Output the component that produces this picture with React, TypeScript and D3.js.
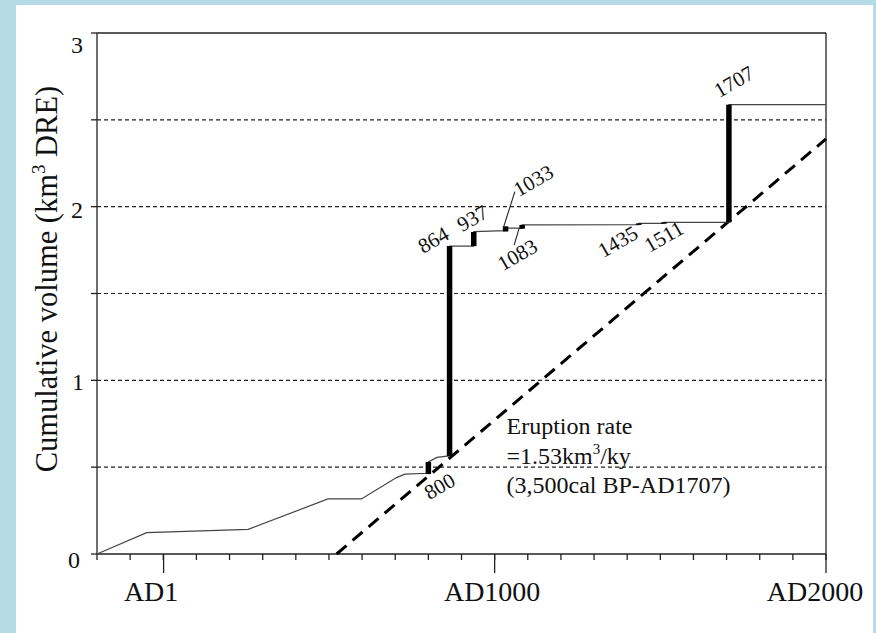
import React from "react";
import * as d3 from "d3";

// ---- data ----
const curvePoints: [number, number][] = [
  [-200, 0], [-50, 0.123], [256, 0.142], [497, 0.317], [598, 0.317],
  [704, 0.44], [729, 0.46], [800, 0.465], [800, 0.53], [826, 0.556],
  [856, 0.564], [864, 0.564], [864, 1.773], [937, 1.773], [937, 1.856],
  [1033, 1.862], [1033, 1.876], [1083, 1.876], [1083, 1.895], [1435, 1.897],
  [1435, 1.904], [1511, 1.904], [1511, 1.91], [1707, 1.91], [1707, 2.587],
  [2000, 2.587],
];
const eventYears = [800, 864, 937, 1033, 1083, 1435, 1511, 1707];
const eventFrom = [0.46, 0.564, 1.773, 1.857, 1.873, 1.895, 1.902, 1.91];
const eventTo = [0.53, 1.773, 1.854, 1.887, 1.895, 1.904, 1.91, 2.587];
const eventLabelYear = [834, 815, 933, 1117, 1069, 1372, 1511, 1722];
const eventLabelVol = [0.39, 1.808, 1.933, 2.149, 1.722, 1.798, 1.827, 2.72];
const leaders: [number, number, number, number][] = [
  [1026, 1.876, 1061, 2.087],
  [1074, 1.876, 1059, 1.779],
];
const rateLine: [number, number][] = [[523, 0], [2000, 2.39]];
const gridVols = [0.5, 1, 1.5, 2, 2.5];
const yTickVols = [0, 0.5, 1, 1.5, 2, 2.5, 3];
const yLabelVols = [0, 1, 2, 3];
const minorYears = d3.range(-200, 2001, 100);
const majorYears = [1, 1000, 2000];
const majorLabels = ["AD1", "AD1000", "AD2000"];
const rateText = ["Eruption rate", "=1.53km", "(3,500cal BP-AD1707)"];

export default function App() {
  const x = d3.scaleLinear().domain([-200, 2000]).range([97, 826]);
  const y = d3.scaleLinear().domain([0, 3]).range([554, 33]);
  const line = d3.line<[number, number]>().x((d) => x(d[0])).y((d) => y(d[1]));
  const font = "'Liberation Serif', 'Times New Roman', serif";
  const labelDx = [-12.5, -2.5, -11];
  const yLabelDy: Record<number, number> = { 0: 13.5, 1: 10, 2: 11, 3: 20 };
  const yLabelDx: Record<number, number> = { 0: -3, 1: 1, 2: 0, 3: 0 };
  const ink = "#222";
  return (
    <svg width={876} height={633} style={{ position: "absolute", left: 0, top: 0, display: "block" }} fontFamily={font}>
      <rect x={0} y={0} width={876} height={633} fill="#b5dce6" />
      <rect x={16} y={5} width={857} height={628} fill="#fff" />
      {/* grid */}
      {gridVols.map((v) => (
        <line key={"g" + v} x1={x(-200)} x2={x(2000)} y1={y(v)} y2={y(v)} stroke={ink} strokeWidth={1.1} strokeDasharray="4,3" />
      ))}
      {/* frame */}
      <line x1={x(-200)} x2={x(2000)} y1={y(3)} y2={y(3)} stroke={ink} strokeWidth={1.3} />
      <line x1={x(2000)} x2={x(2000)} y1={y(3)} y2={y(0)} stroke={ink} strokeWidth={1.3} />
      <line x1={x(-200)} x2={x(-200)} y1={y(3)} y2={y(0)} stroke={ink} strokeWidth={1.3} />
      <line x1={x(-200)} x2={x(2000)} y1={y(0)} y2={y(0)} stroke={ink} strokeWidth={1.3} />
      {/* y ticks */}
      {yTickVols.map((v) => (
        <line key={"yt" + v} x1={x(-200) - 6} x2={x(-200)} y1={y(v)} y2={y(v)} stroke={ink} strokeWidth={1.3} />
      ))}
      {yLabelVols.map((v) => (
        <text key={"yl" + v} x={77 + yLabelDx[v]} y={y(v) + yLabelDy[v]} fontSize={24} textAnchor="middle" fill="#111">{v}</text>
      ))}
      {/* x ticks */}
      {minorYears.map((yr) => (
        <line key={"mt" + yr} x1={x(yr)} x2={x(yr)} y1={y(0)} y2={y(0) + 6} stroke={ink} strokeWidth={1.3} />
      ))}
      {majorYears.map((yr, i) => (
        <g key={"Mt" + yr}>
          <line x1={x(yr)} x2={x(yr)} y1={y(0)} y2={y(0) + 19} stroke={ink} strokeWidth={1.3} />
          <text x={x(yr) + labelDx[i]} y={601} fontSize={28} textAnchor="middle" fill="#111">{majorLabels[i]}</text>
        </g>
      ))}
      {/* y axis title */}
      <text transform="translate(57,279) rotate(-90)" textAnchor="middle" fontSize={30.5} fill="#111">
        Cumulative volume (km<tspan fontSize={19} dy={-12}>3</tspan><tspan dy={12}> DRE)</tspan>
      </text>
      {/* eruption rate dashed line */}
      <path d={line(rateLine) || ""} fill="none" stroke="#000" strokeWidth={3} strokeDasharray="13,8" />
      {/* cumulative curve */}
      <path d={line(curvePoints) || ""} fill="none" stroke="#444" strokeWidth={1.2} />
      {eventYears.map((yr, i) => (
        <line key={"ev" + yr} x1={x(yr)} x2={x(yr)} y1={y(eventFrom[i])} y2={y(eventTo[i])} stroke="#000" strokeWidth={5.5} />
      ))}
      {leaders.map((l, i) => (
        <line key={"ld" + i} x1={x(l[0])} y1={y(l[1])} x2={x(l[2])} y2={y(l[3])} stroke="#222" strokeWidth={1.1} />
      ))}
      {eventYears.map((yr, i) => (
        <text key={"el" + yr} transform={`translate(${x(eventLabelYear[i])},${y(eventLabelVol[i])}) rotate(-30)`}
          textAnchor="middle" dominantBaseline="central" fontSize={21} fill="#111">{yr}</text>
      ))}
      {/* rate annotation */}
      <text x={506.5} y={433.5} fontSize={24} fill="#111">{rateText[0]}</text>
      <text x={506.5} y={463.5} fontSize={24} fill="#111">{rateText[1]}<tspan fontSize={15} dy={-10}>3</tspan><tspan dy={10}>/ky</tspan></text>
      <text x={506.5} y={493} fontSize={24} fill="#111">{rateText[2]}</text>
    </svg>
  );
}
